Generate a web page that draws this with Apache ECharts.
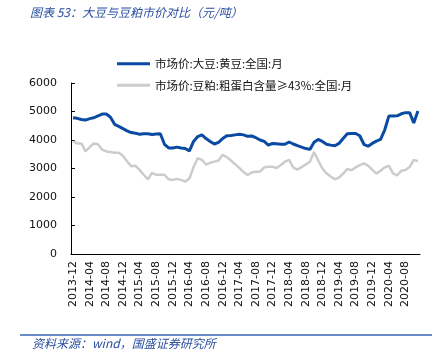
<!DOCTYPE html>
<html><head><meta charset="utf-8">
<script src="https://cdn.jsdelivr.net/npm/echarts@6/dist/echarts.min.js"></script>
<style>html,body{margin:0;padding:0;background:#fff}#c{width:447px;height:360px}</style>
</head><body><div id="c"></div>
<script>
const startYear = 2013, startMonth = 12, nMonths = 84;
const categories = [];
for (let i = 0; i < nMonths; i++) {
  const m = (startMonth - 1 + i) % 12 + 1;
  const y = startYear + Math.floor((startMonth - 1 + i) / 12);
  categories.push(y + '-' + String(m).padStart(2, '0'));
}
const seriesNames = ['市场价:大豆:黄豆:全国:月', '市场价:豆粕:粗蛋白含量≥43%:全国:月'];
const soybean = [4780,4760,4720,4700,4750,4780,4850,4910,4910,4800,4550,4480,4400,4320,4260,4240,4200,4220,4220,4190,4210,4220,
  3850,3720,3720,3750,3720,3700,3620,3950,4120,4180,4050,3950,3860,3920,4050,4150,4160,4180,4200,4180,4130,4140,4080,4000,3950,3820,
  3880,3870,3850,3850,3930,3860,3800,3750,3700,3670,3920,4020,3950,3850,3820,3800,3880,4050,4220,4230,4230,4150,3850,3780,3880,3960,
  4020,4350,4840,4840,4850,4920,4960,4960,4600,5020];
const soymeal = [3950,3880,3880,3600,3750,3880,3850,3660,3600,3580,3550,3550,3450,3250,3080,3100,2950,2780,2620,2850,2780,2780,
  2780,2620,2600,2630,2600,2540,2650,3050,3360,3300,3140,3200,3240,3280,3480,3400,3280,3150,3020,2880,2770,2860,2890,2890,3040,3060,
  3060,3020,3120,3240,3300,3030,2960,3050,3140,3240,3580,3280,3000,2830,2720,2620,2680,2820,2980,2940,3040,3120,3180,3100,2960,2820,
  2920,3040,3100,2830,2760,2920,2950,3050,3300,3260];
const yTicks = [0, 1000, 2000, 3000, 4000, 5000, 6000];
const titleText = '图表 53：大豆与豆粕市价对比（元/吨）';
const sourceText = '资料来源：wind，国盛证券研究所';

const chart = echarts.init(document.getElementById('c'), null, {renderer: 'canvas'});
const blue = '#0b4aa2', gray = '#cccccc', txtBlue = '#2a4f9e';
chart.setOption({
  animation: false,
  backgroundColor: '#fff',
  textStyle: {fontFamily: '"Noto Sans CJK SC", "DejaVu Sans", sans-serif'},
  graphic: [
    {type: 'text', left: 30, top: 6, style: {text: titleText, fill: txtBlue, font: 'italic 12px "Noto Sans CJK SC", sans-serif'}},
    {type: 'line', shape: {x1: 20, y1: 335, x2: 432, y2: 335}, style: {stroke: '#3a66b5', lineWidth: 1.5}},
    {type: 'text', left: 32, top: 337, style: {text: sourceText, fill: txtBlue, font: 'italic 12px "Noto Sans CJK SC", sans-serif'}}
  ],
  legend: {
    orient: 'vertical', left: 112, top: 53, itemWidth: 33, itemHeight: 10, itemGap: 10,
    icon: 'path://M0,4 L33,4 L33,7 L0,7 Z',
    textStyle: {color: '#111', fontSize: 11.5, fontFamily: '"Noto Sans CJK SC", sans-serif'},
    data: seriesNames
  },
  grid: {left: 71, right: 27, top: 83, bottom: 106},
  xAxis: {
    type: 'category', data: categories, boundaryGap: true,
    axisLine: {lineStyle: {color: '#000', width: 1}},
    axisTick: {inside: true, length: 4, interval: 0, lineStyle: {color: '#000'}},
    axisLabel: {rotate: 90, interval: 3, margin: 7, color: '#111', fontSize: 11, fontFamily: '"DejaVu Sans", sans-serif'},
    splitLine: {show: false}
  },
  yAxis: {
    type: 'value', min: yTicks[0], max: yTicks[yTicks.length - 1], interval: 1000,
    axisLine: {show: true, lineStyle: {color: '#000', width: 1}},
    axisTick: {show: true, inside: true, length: 4, lineStyle: {color: '#000'}},
    axisLabel: {margin: 14, color: '#111', fontSize: 11, fontFamily: '"DejaVu Sans", sans-serif',
      formatter: function (v) { return String(v); }},
    splitLine: {show: false}
  },
  series: [
    {name: seriesNames[0], type: 'line', data: soybean, symbol: 'none', z: 3,
     lineStyle: {color: blue, width: 3}, itemStyle: {color: blue}},
    {name: seriesNames[1], type: 'line', data: soymeal, symbol: 'none', z: 2,
     lineStyle: {color: gray, width: 2.5}, itemStyle: {color: gray}}
  ]
});
</script></body></html>
